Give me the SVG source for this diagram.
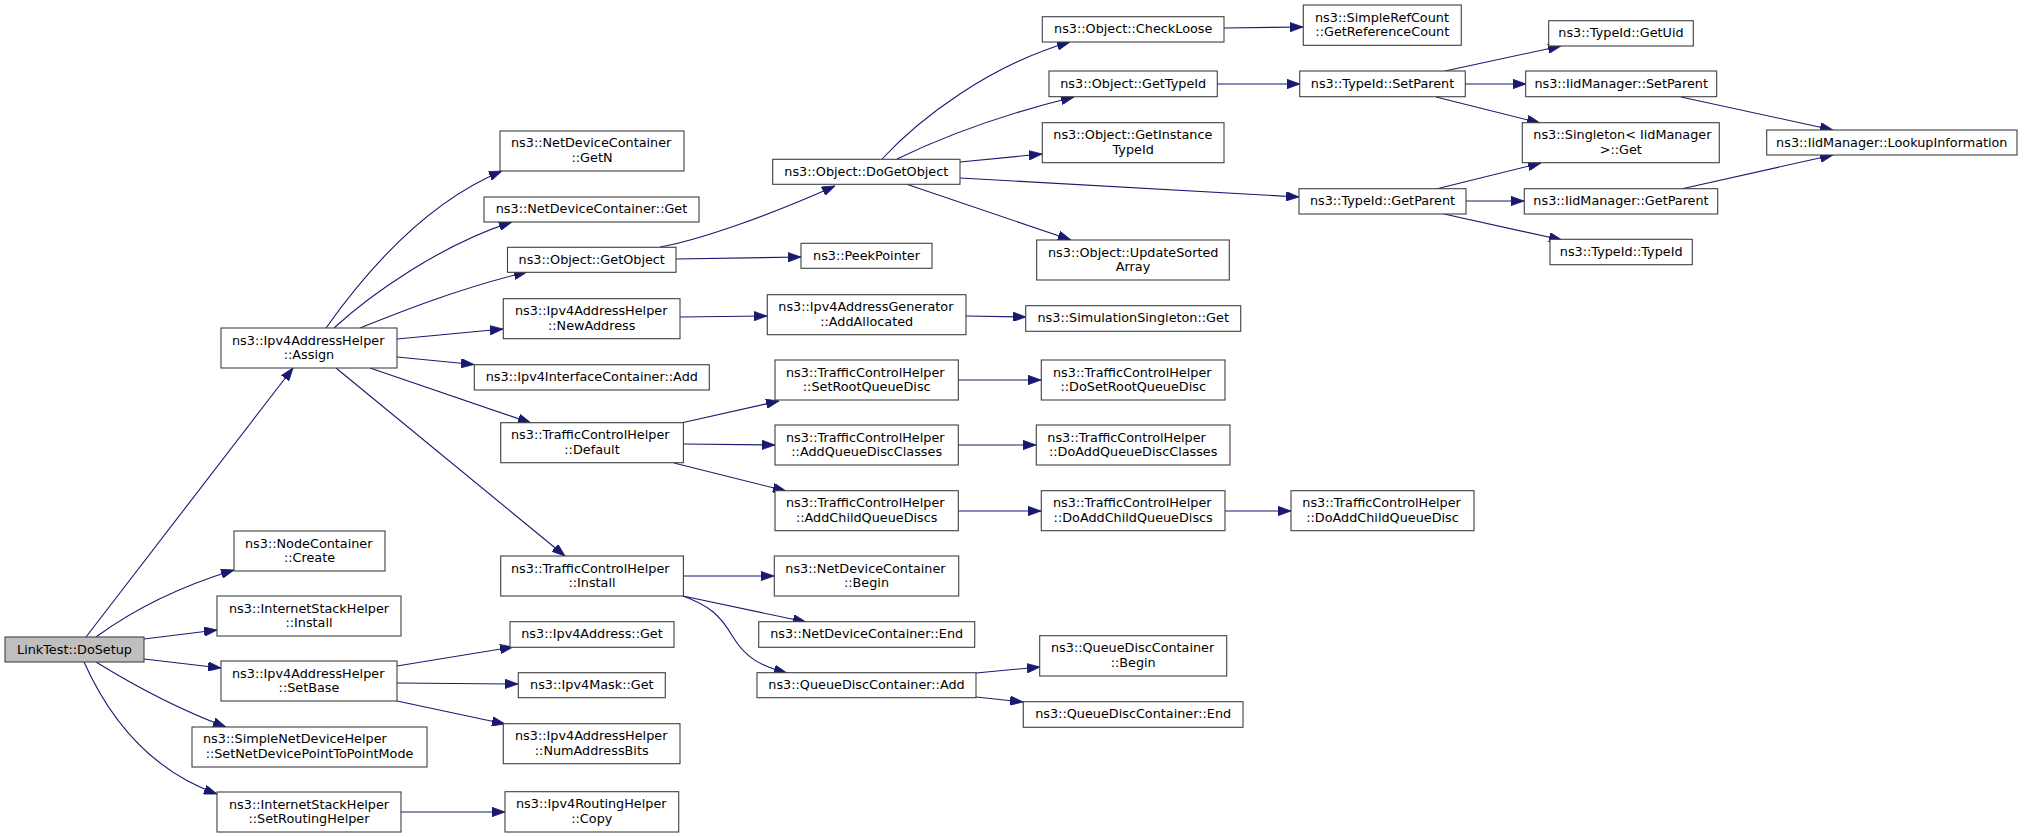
<svg xmlns="http://www.w3.org/2000/svg" width="2035" height="837" viewBox="0 0 2035 837">
<style>
.node rect{fill:#ffffff;stroke:#404040;stroke-width:1.1}
.node rect.root{fill:#bfbfbf}
.node text{font-family:"DejaVu Sans","Liberation Sans",sans-serif;font-size:12.8px;fill:#000}
.s{text-anchor:start}
.m{text-anchor:middle}
.edges path{fill:none;stroke:#191970;stroke-width:1.1;marker-end:url(#arr)}
</style>
<defs>
<marker id="arr" viewBox="0 0 13 9.4" refX="13" refY="4.7" markerWidth="13" markerHeight="9.4" markerUnits="userSpaceOnUse" orient="auto">
<path d="M0,0 L13,4.7 L0,9.4 Z" fill="#191970" stroke="#191970" stroke-width="0.8"/>
</marker>
</defs>
<rect width="2035" height="837" fill="#ffffff"/>
<g class="edges" id="connectors">
<path d="M86,637 L293,368"/>
<path d="M96,637 C130,612 175,588 234,570"/>
<path d="M144,639 L217,630"/>
<path d="M144,659 L221,668"/>
<path d="M96,662 C130,683 175,708 226,727"/>
<path d="M84,662 C110,720 150,770 217,794"/>
<path d="M326,328 C360,280 420,205 502,171"/>
<path d="M334,328 C370,295 440,245 512,222"/>
<path d="M360,328 C400,312 460,288 527,272"/>
<path d="M397,339 L503,329"/>
<path d="M397,357 L474,364.5"/>
<path d="M370,368 L531,423"/>
<path d="M336,368 L565,556"/>
<path d="M660,247 C700,240 770,215 835,186"/>
<path d="M676,259 L801,257"/>
<path d="M882,159 C920,118 990,65 1070,42"/>
<path d="M897,159 C940,138 1000,115 1074,97"/>
<path d="M960,162 L1042,154"/>
<path d="M960,178 L1299,197"/>
<path d="M906,184 L1071,240"/>
<path d="M1224,28 L1303,27"/>
<path d="M1217,84 L1300,84"/>
<path d="M1445,71 L1561,46"/>
<path d="M1465,84 L1526,84"/>
<path d="M1436,97 L1540,123"/>
<path d="M1436,189 L1541,163"/>
<path d="M1466,201 L1524,201"/>
<path d="M1444,214 L1562,240"/>
<path d="M1681,97 L1833,130"/>
<path d="M1681,189 L1833,155"/>
<path d="M680,317 L767,316"/>
<path d="M966,316 L1026,317"/>
<path d="M681,423 L779,401"/>
<path d="M683,444 L775,445"/>
<path d="M674,463 L786,491"/>
<path d="M958,380 L1041,380"/>
<path d="M958,445 L1036,445"/>
<path d="M958,511 L1041,511"/>
<path d="M1225,511 L1291,511"/>
<path d="M683,576 L774,576"/>
<path d="M683,596 L806,622"/>
<path d="M683,596 C710,606 720,615 733,637 C745,657 760,666 787,673"/>
<path d="M976,673 L1040,667"/>
<path d="M976,697 L1023,702"/>
<path d="M397,666 L513,647"/>
<path d="M397,683 L518,684"/>
<path d="M397,701 L505,724"/>
<path d="M401,812 L505,812"/>
</g>
<g class="node" id="n-dosetup"><rect class="root" x="5" y="637" width="139" height="25"/><text class="m" x="74.5" y="653.5">LinkTest::DoSetup</text></g>
<g class="node" id="n-assign"><rect x="221" y="328" width="176" height="40"/><text class="s" x="232" y="344.5">ns3::Ipv4AddressHelper</text><text class="m" x="309" y="359">::Assign</text></g>
<g class="node" id="n-create"><rect x="234" y="531" width="151" height="40"/><text class="s" x="245" y="547.5">ns3::NodeContainer</text><text class="m" x="309.5" y="562">::Create</text></g>
<g class="node" id="n-ish-install"><rect x="217" y="596" width="184" height="40"/><text class="s" x="229" y="612.5">ns3::InternetStackHelper</text><text class="m" x="309" y="627">::Install</text></g>
<g class="node" id="n-setbase"><rect x="221" y="661" width="176" height="40"/><text class="s" x="232" y="677.7">ns3::Ipv4AddressHelper</text><text class="m" x="309" y="692.3">::SetBase</text></g>
<g class="node" id="n-simplenet"><rect x="192" y="727" width="235" height="40"/><text class="s" x="203" y="743.3">ns3::SimpleNetDeviceHelper</text><text class="m" x="309.5" y="758">::SetNetDevicePointToPointMode</text></g>
<g class="node" id="n-setrouting"><rect x="217" y="792" width="184" height="40"/><text class="s" x="229" y="808.7">ns3::InternetStackHelper</text><text class="m" x="309" y="823.3">::SetRoutingHelper</text></g>
<g class="node" id="n-getn"><rect x="500" y="131" width="184" height="40"/><text class="s" x="511" y="147.3">ns3::NetDeviceContainer</text><text class="m" x="592" y="162">::GetN</text></g>
<g class="node" id="n-ndc-get"><rect x="484" y="197" width="215" height="25"/><text class="m" x="591.5" y="213.3">ns3::NetDeviceContainer::Get</text></g>
<g class="node" id="n-getobject"><rect x="507.5" y="247.3" width="168.5" height="25"/><text class="m" x="591.7" y="264">ns3::Object::GetObject</text></g>
<g class="node" id="n-newaddress"><rect x="503.3" y="298.7" width="176.7" height="40"/><text class="s" x="515" y="315.3">ns3::Ipv4AddressHelper</text><text class="m" x="591.7" y="330">::NewAddress</text></g>
<g class="node" id="n-ific-add"><rect x="474.3" y="364.7" width="235" height="25.3"/><text class="m" x="591.8" y="381.3">ns3::Ipv4InterfaceContainer::Add</text></g>
<g class="node" id="n-default"><rect x="500.7" y="422.7" width="182.7" height="40"/><text class="s" x="511" y="439.3">ns3::TrafficControlHelper</text><text class="m" x="592" y="454">::Default</text></g>
<g class="node" id="n-tch-install"><rect x="500.7" y="556" width="182.7" height="40"/><text class="s" x="511" y="572.7">ns3::TrafficControlHelper</text><text class="m" x="592" y="587.3">::Install</text></g>
<g class="node" id="n-ipv4addr-get"><rect x="510" y="621.7" width="164" height="25.6"/><text class="m" x="592" y="638.3">ns3::Ipv4Address::Get</text></g>
<g class="node" id="n-ipv4mask-get"><rect x="518.3" y="672.7" width="147" height="25"/><text class="m" x="591.8" y="689.3">ns3::Ipv4Mask::Get</text></g>
<g class="node" id="n-numaddrbits"><rect x="503.3" y="723.7" width="176.7" height="40"/><text class="s" x="515" y="740.3">ns3::Ipv4AddressHelper</text><text class="m" x="591.7" y="755">::NumAddressBits</text></g>
<g class="node" id="n-copy"><rect x="505" y="791.7" width="173.7" height="40.3"/><text class="s" x="516" y="808.3">ns3::Ipv4RoutingHelper</text><text class="m" x="591.8" y="823">::Copy</text></g>
<g class="node" id="n-dogetobject"><rect x="772.7" y="159.3" width="187.3" height="25"/><text class="m" x="866.3" y="176">ns3::Object::DoGetObject</text></g>
<g class="node" id="n-peekpointer"><rect x="801" y="243.3" width="131" height="25"/><text class="m" x="866.5" y="260">ns3::PeekPointer</text></g>
<g class="node" id="n-addallocated"><rect x="767.3" y="294.7" width="198.7" height="40"/><text class="s" x="778.3" y="311.3">ns3::Ipv4AddressGenerator</text><text class="m" x="866.7" y="326">::AddAllocated</text></g>
<g class="node" id="n-setrootqd"><rect x="775" y="360" width="183.3" height="40"/><text class="s" x="786" y="376.7">ns3::TrafficControlHelper</text><text class="m" x="866.7" y="391.3">::SetRootQueueDisc</text></g>
<g class="node" id="n-addqdclasses"><rect x="775" y="425" width="183.3" height="40"/><text class="s" x="786" y="441.7">ns3::TrafficControlHelper</text><text class="m" x="866.7" y="456.3">::AddQueueDiscClasses</text></g>
<g class="node" id="n-addchildqds"><rect x="775" y="490.7" width="183.3" height="40"/><text class="s" x="786" y="507.3">ns3::TrafficControlHelper</text><text class="m" x="866.7" y="522">::AddChildQueueDiscs</text></g>
<g class="node" id="n-ndc-begin"><rect x="774.3" y="556" width="184.4" height="40"/><text class="s" x="785.3" y="572.7">ns3::NetDeviceContainer</text><text class="m" x="866.5" y="587.3">::Begin</text></g>
<g class="node" id="n-ndc-end"><rect x="758.7" y="621.7" width="216" height="25.6"/><text class="m" x="866.7" y="638.3">ns3::NetDeviceContainer::End</text></g>
<g class="node" id="n-qdc-add"><rect x="757" y="672.7" width="219" height="25"/><text class="m" x="866.5" y="689.3">ns3::QueueDiscContainer::Add</text></g>
<g class="node" id="n-checkloose"><rect x="1042.3" y="16.7" width="181.7" height="25.3"/><text class="m" x="1133.2" y="33.3">ns3::Object::CheckLoose</text></g>
<g class="node" id="n-gettypeid"><rect x="1049" y="71" width="168.3" height="25.7"/><text class="m" x="1133.2" y="87.7">ns3::Object::GetTypeId</text></g>
<g class="node" id="n-getinstancetypeid"><rect x="1042.3" y="122.7" width="181.7" height="40"/><text class="s" x="1053.3" y="139.3">ns3::Object::GetInstance</text><text class="m" x="1133.2" y="154">TypeId</text></g>
<g class="node" id="n-updatesorted"><rect x="1036.7" y="240" width="192.6" height="40"/><text class="s" x="1048" y="256.7">ns3::Object::UpdateSorted</text><text class="m" x="1133" y="271.3">Array</text></g>
<g class="node" id="n-simsingleton"><rect x="1025.7" y="305.7" width="215" height="25.6"/><text class="m" x="1133.2" y="322.3">ns3::SimulationSingleton::Get</text></g>
<g class="node" id="n-dosetrootqd"><rect x="1041.3" y="360" width="183.7" height="40"/><text class="s" x="1053" y="376.7">ns3::TrafficControlHelper</text><text class="m" x="1133.2" y="391.3">::DoSetRootQueueDisc</text></g>
<g class="node" id="n-doaddqdclasses"><rect x="1036.3" y="425" width="193.7" height="40"/><text class="s" x="1047.3" y="441.7">ns3::TrafficControlHelper</text><text class="m" x="1133.2" y="456.3">::DoAddQueueDiscClasses</text></g>
<g class="node" id="n-doaddchildqds"><rect x="1041.3" y="490.7" width="183.7" height="40"/><text class="s" x="1053" y="507.3">ns3::TrafficControlHelper</text><text class="m" x="1133.2" y="522">::DoAddChildQueueDiscs</text></g>
<g class="node" id="n-qdc-begin"><rect x="1039.7" y="635.7" width="187" height="40.3"/><text class="s" x="1051" y="652.3">ns3::QueueDiscContainer</text><text class="m" x="1133.2" y="667">::Begin</text></g>
<g class="node" id="n-qdc-end"><rect x="1023.3" y="701.7" width="219.7" height="25.6"/><text class="m" x="1133.2" y="718.3">ns3::QueueDiscContainer::End</text></g>
<g class="node" id="n-simplerefcount"><rect x="1303.3" y="5" width="158" height="40.3"/><text class="s" x="1315" y="21.7">ns3::SimpleRefCount</text><text class="m" x="1382.3" y="36.3">::GetReferenceCount</text></g>
<g class="node" id="n-typeid-setparent"><rect x="1299.7" y="71" width="165.6" height="25.7"/><text class="m" x="1382.5" y="87.7">ns3::TypeId::SetParent</text></g>
<g class="node" id="n-typeid-getparent"><rect x="1299" y="188.7" width="167" height="25.3"/><text class="m" x="1382.5" y="205.3">ns3::TypeId::GetParent</text></g>
<g class="node" id="n-doaddchildqd"><rect x="1291" y="490.7" width="183" height="40"/><text class="s" x="1302.3" y="507.3">ns3::TrafficControlHelper</text><text class="m" x="1382.5" y="522">::DoAddChildQueueDisc</text></g>
<g class="node" id="n-getuid"><rect x="1548.7" y="20.7" width="144.6" height="25.3"/><text class="m" x="1621" y="37.3">ns3::TypeId::GetUid</text></g>
<g class="node" id="n-iid-setparent"><rect x="1525.7" y="71" width="191" height="25.7"/><text class="m" x="1621.2" y="87.7">ns3::IidManager::SetParent</text></g>
<g class="node" id="n-singleton"><rect x="1522.3" y="122.7" width="197" height="40"/><text class="s" x="1533.3" y="139.3">ns3::Singleton&lt; IidManager</text><text class="m" x="1620.8" y="154">&gt;::Get</text></g>
<g class="node" id="n-iid-getparent"><rect x="1524.3" y="188.7" width="193.4" height="25.3"/><text class="m" x="1621" y="205.3">ns3::IidManager::GetParent</text></g>
<g class="node" id="n-typeid-typeid"><rect x="1550" y="239.3" width="142.3" height="25.4"/><text class="m" x="1621.2" y="256">ns3::TypeId::TypeId</text></g>
<g class="node" id="n-lookup"><rect x="1766.7" y="130" width="250.3" height="25"/><text class="m" x="1891.8" y="146.7">ns3::IidManager::LookupInformation</text></g>
</svg>
